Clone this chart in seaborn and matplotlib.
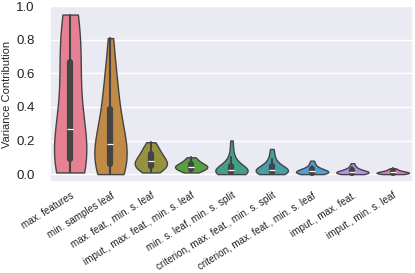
import pandas as pd
import seaborn as sns
import matplotlib.pyplot as plt

# hyperparameter groups (x categories)
groups = [
    "max. features",
    "min. samples leaf",
    "max. feat., min. s. leaf",
    "imput., max. feat., min. s. leaf",
    "min. s. leaf, min. s. split",
    "criterion, max. feat., min. s. split",
    "criterion, max. feat., min. s. leaf",
    "imput., max. feat.",
    "imput., min. s. leaf",
]

# variance contributions
max_features = [0.01, 0.04, 0.06, 0.08, 0.09, 0.09, 0.11, 0.12, 0.14, 0.18, 0.27,
                0.36, 0.46, 0.56, 0.63, 0.67, 0.74, 0.83, 0.90, 0.93, 0.95]
min_samples_leaf = [0.00, 0.01, 0.03, 0.04, 0.05, 0.06, 0.08, 0.10, 0.12, 0.15, 0.18,
                    0.21, 0.25, 0.29, 0.33, 0.39, 0.45, 0.52, 0.57, 0.65, 0.81]
maxfeat_minleaf = [0.01, 0.02, 0.03, 0.04, 0.04, 0.05, 0.05, 0.06, 0.06, 0.07, 0.08,
                   0.08, 0.09, 0.10, 0.11, 0.12, 0.13, 0.14, 0.16, 0.17, 0.19]
imput_maxfeat_minleaf = [0.01, 0.015, 0.02, 0.025, 0.03, 0.03, 0.035, 0.04, 0.04, 0.045, 0.045,
                         0.05, 0.05, 0.055, 0.06, 0.06, 0.07, 0.075, 0.085, 0.095, 0.10]
minleaf_minsplit = [0.00, 0.003, 0.005, 0.008, 0.01, 0.01, 0.012, 0.015, 0.018, 0.02, 0.022,
                    0.025, 0.03, 0.035, 0.04, 0.05, 0.06, 0.08, 0.10, 0.14, 0.20]
crit_maxfeat_minsplit = [0.00, 0.004, 0.006, 0.009, 0.011, 0.012, 0.015, 0.018, 0.02, 0.022, 0.025,
                         0.028, 0.032, 0.036, 0.042, 0.05, 0.06, 0.075, 0.09, 0.12, 0.15]
crit_maxfeat_minleaf = [0.00, 0.002, 0.004, 0.006, 0.007, 0.008, 0.01, 0.012, 0.013, 0.015, 0.016,
                        0.018, 0.02, 0.023, 0.026, 0.03, 0.035, 0.042, 0.05, 0.065, 0.08]
imput_maxfeat = [0.00, 0.002, 0.004, 0.005, 0.006, 0.007, 0.008, 0.009, 0.01, 0.011, 0.012,
                 0.014, 0.016, 0.018, 0.02, 0.024, 0.028, 0.033, 0.04, 0.05, 0.065]
imput_minleaf = [0.00, 0.001, 0.002, 0.003, 0.004, 0.005, 0.006, 0.007, 0.008, 0.009, 0.01,
                 0.011, 0.012, 0.013, 0.015, 0.017, 0.019, 0.022, 0.026, 0.03, 0.035]

series = [max_features, min_samples_leaf, maxfeat_minleaf, imput_maxfeat_minleaf,
          minleaf_minsplit, crit_maxfeat_minsplit, crit_maxfeat_minleaf,
          imput_maxfeat, imput_minleaf]

df = pd.DataFrame(
    [(g, v) for g, vals in zip(groups, series) for v in vals],
    columns=["group", "value"],
)

sns.set_theme(style="darkgrid")
plt.rcParams["font.family"] = ["Liberation Sans", "DejaVu Sans"]

fig = plt.figure(figsize=(4.15, 2.73), dpi=100)
ax = fig.add_axes([0.1205, 0.3333, 0.8745, 0.644])

sns.violinplot(data=df, x="group", y="value", hue="group", order=groups,
               palette="husl", cut=0, density_norm="width", inner="box",
               bw_adjust=1.2, linewidth=1, linecolor="#444444",
               legend=False, ax=ax)

ax.set_ylim(-0.047, 1.0)
ax.set_yticks([0.0, 0.2, 0.4, 0.6, 0.8, 1.0])
ax.tick_params(axis="y", labelsize=9.5, pad=5, labelcolor="#222222")
ax.tick_params(axis="x", labelsize=7.1, pad=0, labelcolor="#222222")
ax.set_xlabel("")
ax.set_ylabel("Variance Contribution", fontsize=8, labelpad=3,
              family=["Liberation Sans Narrow", "Liberation Sans"])
plt.setp(ax.get_xticklabels(), rotation=32, ha="right", rotation_mode="anchor")

fig.savefig("out.png", dpi=100)
